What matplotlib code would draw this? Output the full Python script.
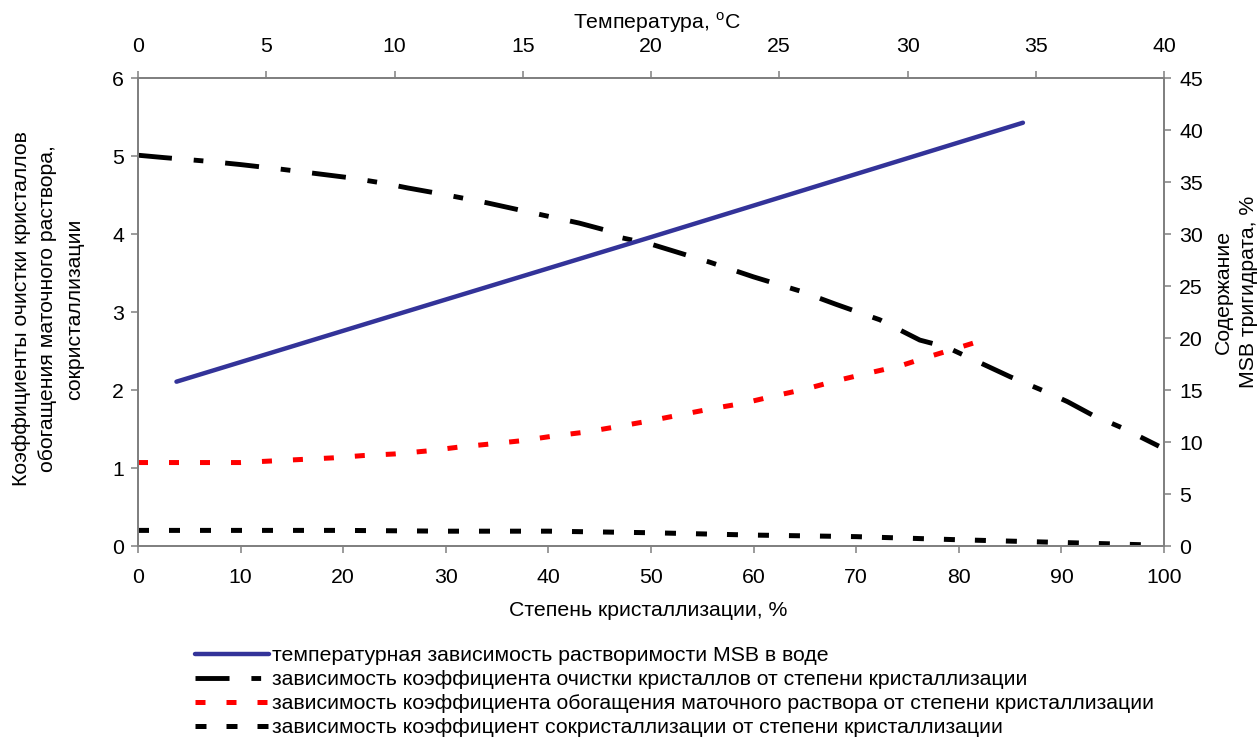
import matplotlib.pyplot as plt
import matplotlib.ticker as mticker

plt.rcParams['font.family'] = ['Liberation Sans', 'DejaVu Sans']
plt.rcParams['mathtext.fontset'] = 'custom'
plt.rcParams['mathtext.rm'] = 'Liberation Sans'

# temperature dependence of MSB solubility (top / right axes)
temp_c = [1.5, 10, 20, 34.5]
msb_content = [15.8, 22.2, 29.7, 40.7]

# purification coefficient vs crystallization degree
purif_x = [0, 2.5, 7, 10, 14, 20.7, 24, 26.3, 29.7, 34, 38.5, 43, 46.7, 47.2, 50,
           55.7, 60, 64.5, 68, 72.3, 76.2, 78.8, 81.9, 85, 88.6, 90.6, 93, 96, 99.5]
purif_y = [5.01, 4.98, 4.93, 4.89, 4.83, 4.72, 4.65, 4.59, 4.51, 4.40, 4.27, 4.14, 4.01, 3.95, 3.87,
           3.64, 3.45, 3.27, 3.10, 2.90, 2.64, 2.55, 2.36, 2.17, 1.97, 1.85, 1.68, 1.51, 1.28]

# mother liquor enrichment coefficient
enrich_x = [0, 3, 6, 10, 13, 16, 19, 22, 25, 28.3, 31.4, 34.5, 37.4, 40.5, 43.6, 46.7, 49.7,
            52.8, 55.9, 59, 61.9, 65, 68.1, 71.3, 74.3, 77.4, 80.4, 83.1]
enrich_y = [1.07, 1.07, 1.07, 1.07, 1.09, 1.11, 1.13, 1.16, 1.18, 1.22, 1.27, 1.31, 1.35, 1.41, 1.46, 1.53, 1.60,
            1.68, 1.76, 1.83, 1.92, 2.01, 2.12, 2.22, 2.31, 2.44, 2.56, 2.67]

# co-crystallization coefficient
cocr_x = [0, 10, 20, 30, 40, 50, 60, 70, 80, 90, 99.5]
cocr_y = [0.20, 0.20, 0.20, 0.19, 0.19, 0.17, 0.14, 0.12, 0.08, 0.045, 0.01]

labels = ['температурная зависимость растворимости MSB в воде',
          'зависимость коэффициента очистки кристаллов от степени кристаллизации',
          'зависимость коэффициента обогащения маточного раствора от степени кристаллизации',
          'зависимость коэффициент сокристаллизации от степени кристаллизации']

W, H = 1260, 739
fig = plt.figure(figsize=(12.6, 7.39), dpi=100)
ax = fig.add_axes([138 / W, 1 - 546 / H, (1164 - 138) / W, (546 - 78) / H])
ax2 = ax.twinx()
ax3 = ax2.twiny()

grey = '#808080'
fs = 15.3

l2, = ax.plot(purif_x, purif_y, color='black', lw=3.5, linestyle=(0, (7, 4.5, 2, 4.5)))
l3, = ax.plot(enrich_x, enrich_y, color='red', lw=3.6, linestyle=(0, (2, 4.2)))
l4, = ax.plot(cocr_x, cocr_y, color='black', lw=3.6, linestyle=(0, (2.2, 4.0)))
l1, = ax3.plot(temp_c, msb_content, color='#333399', lw=3.2, solid_capstyle='round')

ax.set_xlim(0, 100)
ax.set_ylim(0, 6)
ax2.set_ylim(0, 45)
ax3.set_xlim(0, 40)

ax.xaxis.set_major_locator(mticker.MultipleLocator(10))
ax.yaxis.set_major_locator(mticker.MultipleLocator(1))
ax2.yaxis.set_major_locator(mticker.MultipleLocator(5))
ax3.xaxis.set_major_locator(mticker.MultipleLocator(5))

for a in (ax, ax2, ax3):
    for s in a.spines.values():
        s.set_color(grey)
        s.set_linewidth(1.1)
    a.tick_params(colors=grey, labelcolor='black', labelsize=fs, length=5, width=1.1)

ax.tick_params(axis='x', pad=11)
ax.tick_params(axis='y', pad=5)
ax2.tick_params(axis='y', pad=6)
ax3.tick_params(axis='x', pad=11)

fig.text(657 / W, 1 - 23 / H, 'Температура, $^{\\mathrm{o}}$C', ha='center', va='center', fontsize=fs)
fig.text(648 / W, 1 - 610 / H, 'Степень кристаллизации, %', ha='center', va='center', fontsize=fs)
fig.text(48 / W, 1 - 309 / H,
         'Коэффициенты очистки кристаллов\nобогащения маточного раствора,\nсокристаллизации',
         rotation=90, ha='center', va='center', fontsize=fs, multialignment='center', linespacing=1.5)
fig.text(1236 / W, 1 - 292 / H, 'Содержание\nMSB тригидрата, %',
         rotation=90, ha='center', va='center', fontsize=fs, multialignment='center', linespacing=1.4)

fig.legend([l1, l2, l3, l4], labels, loc='upper left', bbox_to_anchor=(195 / W, 1 - 646 / H),
           frameon=False, fontsize=fs, handlelength=3.5, handletextpad=0.12,
           labelspacing=0.24, borderpad=0, borderaxespad=0)

fig.savefig('out.png', dpi=100)
